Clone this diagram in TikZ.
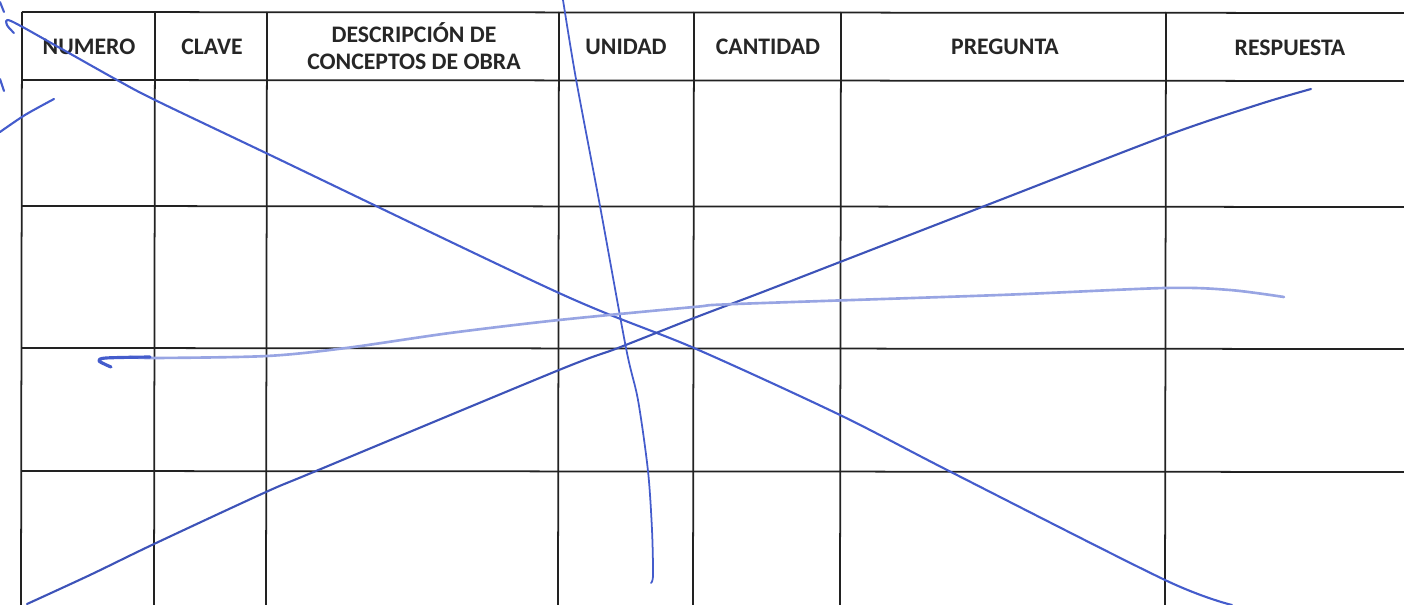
\documentclass[tikz,border=0pt]{standalone}
\usepackage{fontspec}
\setmainfont{Carlito}
\definecolor{penblue}{RGB}{68,92,204}
\definecolor{gridgray}{RGB}{34,34,34}

\begin{document}
\begin{tikzpicture}[x = 0.02cm, y = -0.02cm,
    every node/.style = {font = \fontsize{13.5}{15.4}\selectfont\bfseries, text = black!85, align = center},
    grid/.style = {draw = gridgray, line width = 1pt},
    pen/.style = {draw = penblue, line width = 1.2pt, line cap = round, line join = round}]

        \useasboundingbox (0, 0) rectangle (1404, 605);

        \draw [grid] (22, 12) -- (1404, 13);
        \draw [grid] (22, 80) -- (1404, 81);
        \draw [grid] (22, 206) -- (1404, 207);
        \draw [grid] (22, 348) -- (1404, 349);
        \draw [grid] (22, 471) -- (1404, 472);

        \draw [grid] (22, 12) -- (21, 605);
        \draw [grid] (155, 12) -- (154, 605);
        \draw [grid] (267, 12) -- (266, 605);
        \draw [grid] (559, 12) -- (558, 605);
        \draw [grid] (694, 12) -- (693, 605);
        \draw [grid] (841, 12) -- (840, 605);
        \draw [grid] (1166, 12) -- (1165, 605);

        \node (n1) at (89, 47) {NUMERO};
        \node (n2) at (212, 47) {CLAVE};
        \node (n3) at (414, 46) {DESCRIPCIÓN DE\\CONCEPTOS DE OBRA};
        \node (n4) at (626, 47) {UNIDAD};
        \node (n5) at (768, 47) {CANTIDAD};
        \node (n6) at (1005, 47) {PREGUNTA};
        \node (n7) at (1290, 48) {RESPUESTA};

        \draw [pen] plot [smooth, tension = 0.5] coordinates {(14, 33) (7, 25) (11, 21) (60, 48) (117, 80) (155, 100) (268, 154) (559, 293) (694, 348) (840, 415) (951, 472) (1165, 580) (1232, 605)};
        \draw [pen, draw = penblue!90!black] plot [smooth, tension = 0.5] coordinates {(27, 604) (90, 575) (154, 544) (266, 492) (316, 471) (559, 370) (618, 348) (694, 318) (760, 293) (840, 262) (1000, 200) (1168, 135) (1260, 104) (1311, 89)};
        \draw [pen, line width = 1pt] plot [smooth, tension = 0.5] coordinates {(563, 0) (576, 79) (600, 206) (626, 348) (638, 400) (648, 471) (652, 530) (653, 575) (651, 583)};
        \draw [pen, draw = penblue!55, line width = 1.5pt] plot [smooth, tension = 0.5] coordinates {(130, 357) (155, 358) (267, 356) (346, 348) (450, 333) (559, 320) (694, 307) (736, 304) (1000, 295) (1165, 288) (1230, 290) (1284, 297)};
        \draw [pen, line width = 1.8pt] plot [smooth, tension = 0.5] coordinates {(111, 367) (99, 361) (106, 358) (150, 357)};
        \draw [pen] plot [smooth, tension = 0.5] coordinates {(0, 132) (25, 115) (54, 99)};
        \draw [pen] (0, 79) -- (4, 91);
        \draw [pen] (0, 2) -- (4, 12);

    \end{tikzpicture}
\end{document}
